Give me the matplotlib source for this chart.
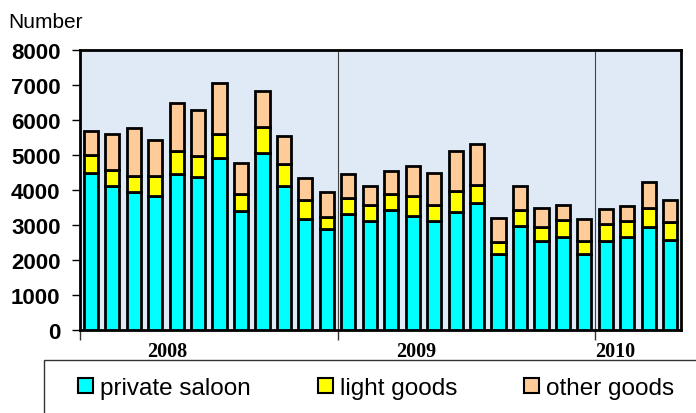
import matplotlib
matplotlib.use("Agg")
import matplotlib.pyplot as plt
from matplotlib.patches import Rectangle, Patch
from matplotlib.transforms import blended_transform_factory
import numpy as np

years = ["2008", "2009", "2010"]
months_per_year = [12, 12, 4]
private_saloon = [4500, 4120, 3950, 3820, 4460, 4360, 4910, 3410, 5060, 4120, 3160, 2880,
                  3310, 3120, 3430, 3270, 3110, 3360, 3630, 2170, 2980, 2550, 2670, 2160,
                  2550, 2660, 2930, 2570]
light_goods = [510, 460, 440, 570, 660, 600, 690, 490, 740, 620, 560, 360,
               470, 450, 470, 570, 470, 620, 520, 350, 450, 380, 480, 390,
               490, 450, 550, 530]
other_goods = [670, 1010, 1390, 1030, 1360, 1330, 1470, 860, 1020, 810, 630, 700,
               680, 550, 630, 840, 920, 1130, 1170, 680, 690, 550, 430, 620,
               410, 430, 760, 620]
series_names = ["private saloon", "light goods", "other goods"]
colors = ["#00FFFF", "#FFFF00", "#FFCC99"]
yticks = [0, 1000, 2000, 3000, 4000, 5000, 6000, 7000, 8000]

plt.rcParams["font.family"] = ["Liberation Sans", "DejaVu Sans"]

fig = plt.figure(figsize=(6.96, 4.14), dpi=100)
ax = fig.add_axes([80 / 696, 83 / 414, 601 / 696, 280 / 414])
ax.set_facecolor("#e0eaf7")

n = len(private_saloon)
x = np.arange(n)
ps = np.array(private_saloon)
lg = np.array(light_goods)
og = np.array(other_goods)
w = 0.66
lw = 2.0
ax.bar(x, ps, w, color=colors[0], edgecolor="black", linewidth=lw, zorder=3)
ax.bar(x, lg, w, bottom=ps, color=colors[1], edgecolor="black", linewidth=lw, zorder=3)
ax.bar(x, og, w, bottom=ps + lg, color=colors[2], edgecolor="black", linewidth=lw, zorder=3)

ax.set_xlim(-0.5, n - 0.5)
ax.set_ylim(0, 8000)
ax.set_yticks(yticks)
ax.set_yticklabels([str(v) for v in yticks], fontsize=16, fontweight="bold")
ax.tick_params(axis="y", direction="out", length=6, width=1, pad=8)

bounds = np.cumsum([0] + months_per_year) - 0.5
ax.set_xticks(bounds[:-1])
ax.set_xticklabels([])
ax.tick_params(axis="x", direction="out", length=7, width=1, color="#333333")
for b in bounds[1:-1]:
    ax.axvline(b, color="#444444", linewidth=0.8, zorder=1)

for s in ax.spines.values():
    s.set_linewidth(2)
    s.set_color("black")

# year labels
trans = blended_transform_factory(ax.transData, fig.transFigure)
label_pos = [3.56, 15.15, 24.42]
for yr, xp in zip(years, label_pos):
    ax.text(xp, 1 - 352 / 414, yr, transform=trans, ha="center", va="center",
            fontsize=14.5, fontweight="bold", family=["Liberation Serif", "DejaVu Serif"])

fig.text(8 / 696, 1 - 22 / 414, "Number", fontsize=15, ha="left", va="center")

# legend frame
fig.patches.append(Rectangle((44 / 696, -0.1), 1.0, (414 - 361) / 414 + 0.1,
                             transform=fig.transFigure, fill=False,
                             edgecolor="#333333", linewidth=1.0))
handles = [Patch(facecolor=c, edgecolor="black", linewidth=1.5) for c in colors]
fig.legend(handles, series_names, ncol=3, frameon=False, fontsize=17.5,
           loc="center left", bbox_to_anchor=(78 / 696, 1 - 389 / 414),
           handlelength=0.62, handleheight=0.62, handletextpad=0.29,
           columnspacing=2.75, borderpad=0, borderaxespad=0)

fig.savefig("out.png", dpi=100)
